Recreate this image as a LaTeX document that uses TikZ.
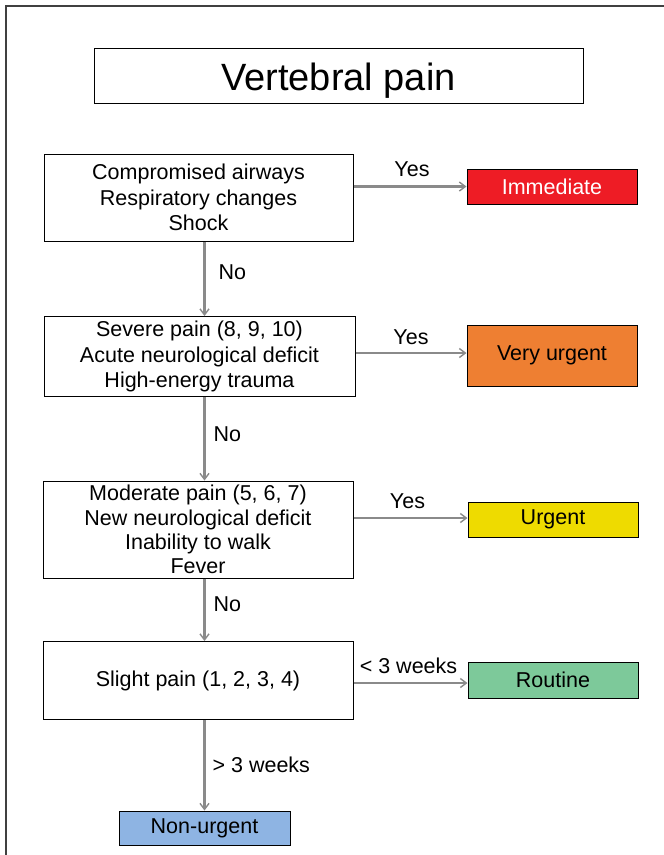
\documentclass[tikz,border=0pt]{standalone}
\usepackage{fontspec}
\setmainfont{Liberation Sans}
\usetikzlibrary{arrows.meta,calc}
\definecolor{cRed}{HTML}{EE1C25}
\definecolor{cOrange}{HTML}{EE7F32}
\definecolor{cYellow}{HTML}{EEDB00}
\definecolor{cGreen}{HTML}{7DC99A}
\definecolor{cBlue}{HTML}{8EB4E3}
\definecolor{cArrow}{HTML}{8A8A8A}
\begin{document}
\begin{tikzpicture}[x=1pt,y=-1pt,
  every node/.style={font=\fontsize{21.5}{25.5}\selectfont},
  qbox/.style={draw=black,line width=1pt,fill=white,align=center,inner sep=0pt},
  outbox/.style={draw=black,line width=1pt,align=center,inner sep=0pt,minimum width=170pt},
  arr/.style={draw=cArrow,line width=2.2pt,-{Straight Barb[length=6pt,width=9pt,line width=1.4pt]}},
  lbl/.style={inner sep=2pt}]
\useasboundingbox (0,0) rectangle (664,855);
\fill[white] (0,0) rectangle (664,855);
% frame
\draw[line width=1.2pt,black!75] (6,860) -- (6,6) -- (670,6);
% title
\node[qbox,minimum width=489pt,minimum height=55pt,text height=40pt,text depth=11pt,
  font=\fontsize{38}{40}\selectfont] (title) at (338.5,75.5) {Vertebral pain};
% question boxes
\node[qbox,minimum width=309pt,minimum height=87pt] (b1) at (198.5,197.5)
  {Compromised airways\\Respiratory changes\\Shock};
\node[qbox,minimum width=311pt,minimum height=80pt] (b2) at (199.5,356.5)
  {Severe pain (8, 9, 10)\\Acute neurological deficit\\High-energy trauma};
\node[qbox,minimum width=310pt,minimum height=97pt,font=\fontsize{21.5}{24.3}\selectfont] (b3) at (198,529.5)
  {Moderate pain (5, 6, 7)\\New neurological deficit\\Inability to walk\\Fever};
\node[qbox,minimum width=310pt,minimum height=78pt] (b4) at (198,680.5)
  {Slight pain (1, 2, 3, 4)};
% outcome boxes
\node[outbox,fill=cRed,text=white,minimum height=35pt] (imm) at (552,186.5) {Immediate};
\node[outbox,fill=cOrange,minimum height=61pt] (vu) at (552,355.5) {Very urgent};
\node[outbox,fill=cYellow,minimum height=35pt] (urg) at (553,519.5) {Urgent};
\node[outbox,fill=cGreen,minimum height=36pt] (rout) at (553,680) {Routine};
\node[outbox,fill=cBlue,minimum width=171pt,minimum height=34pt] (nu) at (204.5,828) {Non-urgent};
% horizontal arrows
\draw[arr] (imm.west -| b1.east) -- node[lbl,above=6.5pt,xshift=2pt] (l1) {Yes} (imm.west);
\draw[arr] ($(vu.west -| b2.east)+(0,-2.5)$) -- node[lbl,above=5pt] (l2) {Yes} ($(vu.west)+(0,-2.5)$);
\draw[arr] ($(urg.west -| b3.east)+(0,-1.5)$) -- node[lbl,above=6pt,xshift=-3pt] (l3) {Yes} ($(urg.west)+(0,-1.5)$);
\draw[arr] ($(rout.west -| b4.east)+(0,3)$) -- node[lbl,above=6.5pt,xshift=-2pt] (l4) {< 3 weeks} ($(rout.west)+(0,3)$);
% vertical arrows
\draw[arr] (b1.south -| nu) -- node[lbl,right=11pt,yshift=7pt] (l5) {No} (b2.north -| nu);
\draw[arr] (b2.south -| nu) -- node[lbl,right=6pt,yshift=4.5pt] (l6) {No} (b3.north -| nu);
\draw[arr] (b3.south -| nu) -- node[lbl,right=6pt,yshift=5.5pt] (l7) {No} (b4.north -| nu);
\draw[arr] (b4.south -| nu) -- node[lbl,right=5pt] (l8) {> 3 weeks} (nu.north);
\end{tikzpicture}
\end{document}
